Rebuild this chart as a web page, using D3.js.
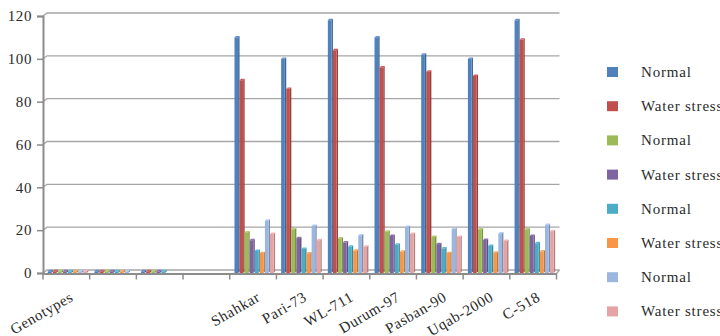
<!DOCTYPE html>
<html>
<head>
<meta charset="utf-8">
<script src="https://cdn.jsdelivr.net/npm/d3@7"></script>
<style>
  html, body { margin: 0; padding: 0; background: #ffffff; }
  svg { display: block; }
  svg text { font-family: "Liberation Serif", "DejaVu Serif", "Times New Roman", serif !important; fill: #2b2b2b; }
</style>
</head>
<body>
<svg id="chart" width="720" height="336"></svg>
<script>
// ---- data ----
const categories = ["Genotypes", "", "", "", "Shahkar", "Pari-73", "WL-711", "Durum-97", "Pasban-90", "Uqab-2000", "C-518"];
const seriesNames = ["Normal", "Water stress", "Normal", "Water stress", "Normal", "Water stress", "Normal", "Water stress"];
const seriesColors = ["#4F81BD", "#C0504D", "#9BBB59", "#8064A2", "#4BACC6", "#F79646", "#9BB7E0", "#E6A3A3"];
const normal1 = [0.8, 0.8, 0.8, null, 110, 100, 118, 110, 102, 100, 118];
const stress1 = [0.8, 0.8, 0.8, null, 90, 86, 104, 96, 94, 92, 109];
const normal2 = [0.8, 0.8, 0.8, null, 19, 20.4, 16.2, 19.3, 16.8, 20.4, 20.4];
const stress2 = [0.8, 0.8, 0.8, null, 15.3, 16.3, 14.3, 17.3, 13.5, 15.4, 17.3];
const normal3 = [0.8, 0.8, 0.8, null, 10.3, 11.2, 12.3, 13.2, 11.5, 12.6, 13.9];
const stress3 = [0.8, 0.8, null, null, 9.3, 9.2, 10.4, 10, 9.3, 9.5, 10.1];
const normal4 = [0.8, 0.8, null, null, 24.4, 22, 17.6, 21.5, 20.5, 18.5, 22.4];
const stress4 = [0.8, null, null, null, 18.2, 15.3, 12.3, 18.2, 16.8, 15, 19.5];
const yTicks = [0, 20, 40, 60, 80, 100, 120];

const seriesValues = [normal1, stress1, normal2, stress2, normal3, stress3, normal4, stress4];

// ---- layout ----
const FONT = '"Liberation Serif", "DejaVu Serif", "Times New Roman", serif';
const svg = d3.select("#chart");
const plot = { left: 43, right: 556.5, top: 16, bottom: 273 };
const depth = 3;   // 3D back-wall offset
const axisColor = "#8c8c8c";
const gridColor = "#a6a6a6";

const x0 = d3.scaleBand().domain(d3.range(categories.length)).range([plot.left, plot.right]).padding(0);
const x1 = d3.scaleBand().domain(d3.range(seriesValues.length)).range([0, x0.bandwidth()])
  .paddingInner(0).paddingOuter(0.6).align(0.78);
const y = d3.scaleLinear().domain([0, 120]).range([plot.bottom, plot.top]);

// gridlines (3D back wall)
svg.append("g").selectAll("path").data(yTicks).join("path")
  .attr("d", v => `M${plot.left},${y(v)} L${plot.left + depth + 1},${y(v) - depth} L${plot.right + depth},${y(v) - depth}`)
  .attr("fill", "none").attr("stroke", gridColor).attr("stroke-width", 1.3);

// y axis
const yAxis = d3.axisLeft(y).tickValues(yTicks).tickSize(6).tickPadding(5).tickFormat(d3.format("d"));
const gy = svg.append("g").attr("transform", `translate(${plot.left},0)`).call(yAxis);
gy.attr("font-family", FONT);
gy.select(".domain").attr("stroke", axisColor).attr("stroke-width", 2);
gy.selectAll(".tick line").attr("stroke", axisColor).attr("stroke-width", 1.5);
gy.selectAll(".tick text").attr("font-size", 15).attr("letter-spacing", 0.6)
  .style("font-family", FONT).attr("fill", "#2b2b2b");

// bars with a small 3D side and top
const shade = (c, k) => d3.color(c).darker(k).formatHex();
const light = (c, k) => d3.color(c).brighter(k).formatHex();
const bw = x1.bandwidth();
const front = bw * 0.72, d3d = bw * 0.28;
const barsG = svg.append("g");
seriesValues.forEach((vals, si) => {
  const col = seriesColors[si];
  const data = vals.map((v, ci) => ({ v, ci })).filter(o => o.v != null);
  const g = barsG.append("g");
  g.selectAll("path.side").data(data).join("path")
    .attr("d", o => {
      const xl = x0(o.ci) + x1(si) + front, yt = y(o.v), yb = y(0);
      return `M${xl},${yt} L${xl + d3d},${yt - d3d} L${xl + d3d},${yb - d3d} L${xl},${yb} Z`;
    }).attr("fill", shade(col, 0.7));
  g.selectAll("path.top").data(data).join("path")
    .attr("d", o => {
      const xl = x0(o.ci) + x1(si), yt = y(o.v);
      return `M${xl},${yt} L${xl + d3d},${yt - d3d} L${xl + front + d3d},${yt - d3d} L${xl + front},${yt} Z`;
    }).attr("fill", light(col, 0.3));
  g.selectAll("rect").data(data).join("rect")
    .attr("x", o => x0(o.ci) + x1(si))
    .attr("y", o => y(o.v))
    .attr("width", front)
    .attr("height", o => y(0) - y(o.v))
    .attr("fill", col);
});

// x axis
const xAxis = d3.axisBottom(x0).tickValues([]).tickSize(0);
const gx = svg.append("g").attr("transform", `translate(0,${plot.bottom + 0.5})`).call(xAxis);
gx.select(".domain").attr("stroke", axisColor).attr("stroke-width", 2);
// category boundary ticks
const bounds = d3.range(categories.length + 1).map(i => plot.left + i * x0.step());
gx.selectAll("line.bt").data(bounds).join("line")
  .attr("x1", d => d).attr("x2", d => d).attr("y1", 0).attr("y2", 6)
  .attr("stroke", axisColor).attr("stroke-width", 1.5);
svg.append("line")
  .attr("x1", plot.right).attr("y1", plot.bottom + 0.5)
  .attr("x2", plot.right + depth).attr("y2", plot.bottom - depth)
  .attr("stroke", gridColor).attr("stroke-width", 1.3);

// rotated category labels
svg.append("g").selectAll("text").data(categories.map((c, i) => ({ c, i })).filter(o => o.c !== ""))
  .join("text")
  .attr("transform", o => `translate(${x0(o.i) + x0.bandwidth() / 2 + 8},${plot.bottom + 27}) rotate(-30)`)
  .attr("text-anchor", "end")
  .attr("font-size", 15).attr("letter-spacing", 0.6)
  .style("font-family", FONT)
  .text(o => o.c);

// legend
const legend = svg.append("g").attr("transform", "translate(607,72)");
const li = legend.selectAll("g").data(seriesNames.map((n, i) => ({ n, i }))).join("g")
  .attr("transform", o => `translate(0,${o.i * 34.2})`);
li.append("rect").attr("x", 0).attr("y", -5).attr("width", 11).attr("height", 10)
  .attr("fill", o => seriesColors[o.i]);
li.append("text").attr("x", 34).attr("y", 5).attr("font-size", 15).attr("letter-spacing", 0.8)
  .style("font-family", FONT)
  .text(o => o.n);
</script>
</body>
</html>
